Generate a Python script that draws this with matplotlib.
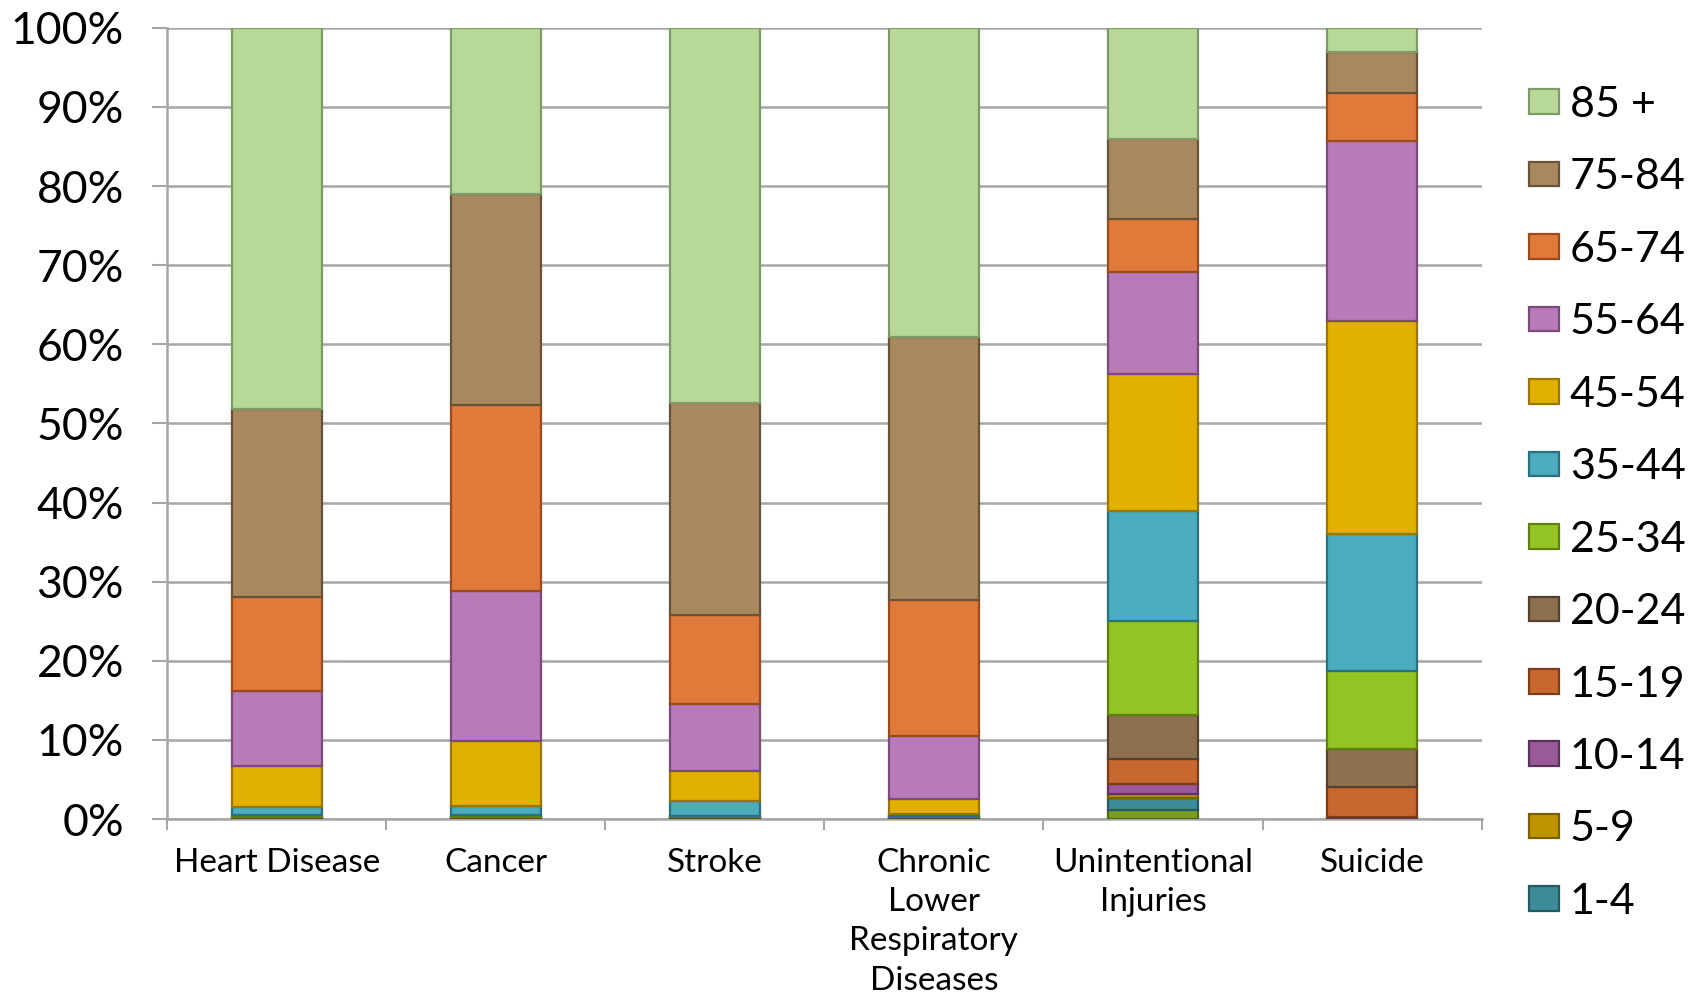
import numpy as np
import matplotlib.pyplot as plt
from matplotlib.ticker import FixedLocator, PercentFormatter

plt.rcParams['font.family'] = ['Lato', 'DejaVu Sans']

causes = ['Heart Disease', 'Cancer', 'Stroke',
          'Chronic\nLower\nRespiratory\nDiseases', 'Unintentional\nInjuries', 'Suicide']

# age groups, bottom of the stack first ('< 1' is not shown in the legend)
ages = ['< 1', '1-4', '5-9', '10-14', '15-19', '20-24', '25-34',
        '35-44', '45-54', '55-64', '65-74', '75-84', '85 +']

# share of deaths (%) per age group, one list per cause
heart = [0.02, 0.02, 0.02, 0.03, 0.05, 0.1, 0.3, 1.0, 5.2, 9.4, 11.9, 23.8, 48.2]
cancer = [0.02, 0.05, 0.05, 0.05, 0.05, 0.05, 0.2, 1.2, 8.2, 19.0, 23.6, 26.7, 21.0]
stroke = [0.05, 0.05, 0.03, 0.03, 0.03, 0.05, 0.2, 1.9, 3.7, 8.5, 11.2, 26.9, 47.4]
clrd = [0.05, 0.05, 0.05, 0.05, 0.05, 0.05, 0.1, 0.3, 1.9, 7.9, 17.2, 33.3, 39.1]
injuries = [1.2, 1.4, 0.6, 1.2, 3.2, 5.5, 11.9, 13.9, 17.4, 12.8, 6.7, 10.1, 14.1]
suicide = [0.0, 0.0, 0.02, 0.2, 3.8, 4.8, 9.9, 17.3, 26.9, 22.8, 6.1, 5.2, 3.0]

colors = ['#7a9e22', '#3c8c98', '#c09400', '#9a5a9a', '#c86830', '#8c7050',
          '#94c424', '#4aacbc', '#e2b000', '#b87ab8', '#e07a3a', '#a8885e', '#b8d898']
edges = ['#4f6a12', '#245a64', '#7c5e00', '#5e3260', '#7e3c16', '#54402c',
         '#5e8010', '#2a7080', '#9a7600', '#7a4a7a', '#9a4a1c', '#6a5236', '#7e9a66']

data = np.array([heart, cancer, stroke, clrd, injuries, suicide])
shares = data / data.sum(axis=1, keepdims=True) * 100

fig = plt.figure(figsize=(17.05, 9.94), dpi=100)
ax = fig.add_axes([0.098, 0.176, 0.771, 0.796])

x = np.arange(len(causes))
bottom = np.zeros(len(causes))
handles = []
for i, age in enumerate(ages):
    b = ax.bar(x, shares[:, i], width=0.41, bottom=bottom, color=colors[i],
               edgecolor=edges[i], linewidth=1.6, label=age, zorder=3)
    handles.append(b)
    bottom += shares[:, i]

ax.set_xlim(-0.5, len(causes) - 0.5)
ax.set_ylim(0, 100)
ax.yaxis.set_major_locator(FixedLocator(np.arange(0, 101, 10)))
ax.yaxis.set_major_formatter(PercentFormatter(decimals=0))
ax.yaxis.grid(True, color='#a6a6a6', linewidth=1.8, zorder=0)

ax.set_xticks(x)
ax.set_xticklabels(causes, fontsize=24, linespacing=1.38)
ax.xaxis.set_minor_locator(FixedLocator(np.arange(-0.5, len(causes), 1)))
ax.tick_params(axis='x', which='major', length=0, pad=21)
ax.tick_params(axis='x', which='minor', length=8, width=1.5, color='#a6a6a6')
ax.tick_params(axis='y', length=11, width=1.5, color='#a6a6a6', labelsize=32, pad=20)

for side in ['top', 'right']:
    ax.spines[side].set_visible(False)
for side in ['left', 'bottom']:
    ax.spines[side].set_color('#a6a6a6')
    ax.spines[side].set_linewidth(1.8)

leg = fig.legend(handles[:0:-1], ages[:0:-1], loc='center left',
                 bbox_to_anchor=(0.874, 0.4935), frameon=False, fontsize=31,
                 handlelength=0.7, handleheight=0.5, labelspacing=0.80,
                 handletextpad=0.25)

fig.savefig('out.png', dpi=100)
